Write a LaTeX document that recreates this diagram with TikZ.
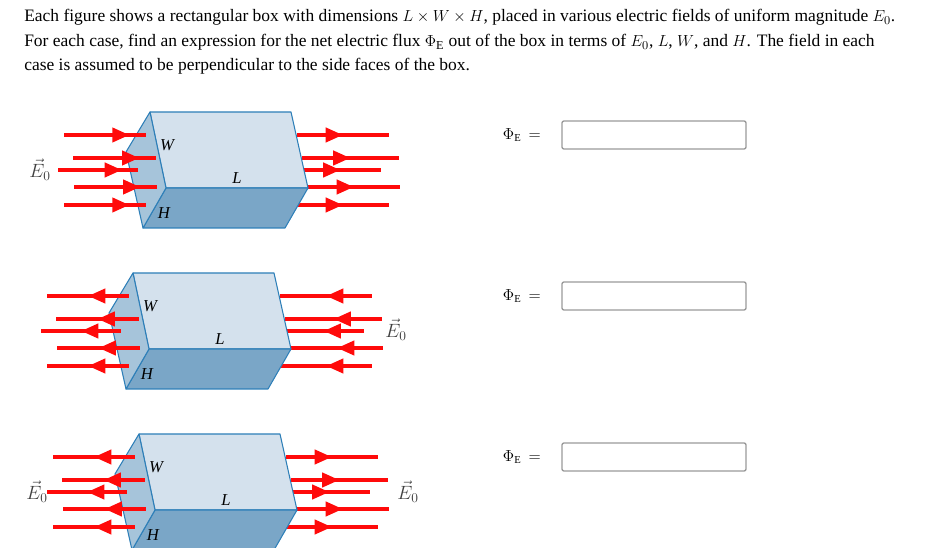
\documentclass[tikz,border=0pt]{standalone}
\usepackage{fontspec}
\setmainfont{Liberation Serif}
\usetikzlibrary{arrows.meta,decorations.markings}
\definecolor{topf}{RGB}{212,225,237}
\definecolor{leftf}{RGB}{166,196,218}
\definecolor{botf}{RGB}{122,166,199}
\definecolor{edge}{RGB}{46,127,184}
\definecolor{fld}{RGB}{255,10,10}
\tikzset{
  face/.style={draw=edge,line width=0.8pt,line join=round},
  fline/.style={draw=fld,line width=3pt},
  fwd/.style={decoration={markings,mark=at position #1 with {\arrow{Triangle[length=13pt,width=10.5pt]}}},postaction=decorate},
  bwd/.style={decoration={markings,mark=at position #1 with {\arrowreversed{Triangle[length=13pt,width=10.5pt]}}},postaction=decorate},
  dimlbl/.style={font=\itshape\fontsize{12.5}{12}\selectfont,inner sep=0pt},
  elbl/.style={font=\fontsize{14}{14}\selectfont,text=black!75,inner sep=0pt},
  txt/.style={anchor=base west,inner sep=0pt,font=\fontsize{13.1}{14}\selectfont},
  ansbox/.style={draw=black!40,line width=1pt,rounded corners=1.5pt,minimum width=138pt,minimum height=21pt,inner sep=0pt},
  phil/.style={font=\fontsize{12}{12}\selectfont,anchor=east,inner sep=0pt}
}
\newcommand{\rightarrows}[1]{%
  \draw[fline,#1] (297,135)--(389,135);
  \draw[fline,#1] (302,158)--(399,158);
  \draw[fline,#1] (300,170)--(381,170);
  \draw[fline,#1] (308,187)--(400,187);
  \draw[fline,#1] (297,205)--(389,205);}
\newcommand{\leftarrows}[1]{%
  \draw[fline,#1] (64,135)--(146,135);
  \draw[fline,#1] (73,158)--(156,158);
  \draw[fline,#1] (58,170)--(138,170);
  \draw[fline,#1] (74,187)--(157,187);
  \draw[fline,#1] (64,205)--(146,205);}
\newcommand{\thebox}{%
  \filldraw[face,fill=topf] (150,112)--(291,112)--(308,188)--(166,188)--cycle;
  \filldraw[face,fill=botf] (166,188)--(308,188)--(285,228)--(143,228)--cycle;
  \filldraw[face,fill=leftf] (150,112)--(166,188)--(143,228)--(126,152)--cycle;}
\begin{document}
\begin{tikzpicture}[x=0.75pt,y=-0.75pt]
\useasboundingbox (0,0) rectangle (949,548);
\node[txt] (t1) at (24,22) {Each figure shows a rectangular box with dimensions $L\times W\times H$, placed in various electric fields of uniform magnitude $E_0$.};
\node[txt] (t2) at (24,47) {For each case, find an expression for the net electric flux $\Phi_{\mathrm{E}}$ out of the box in terms of $E_0$, $L$, $W$, and $H$. The field in each};
\node[txt] (t3) at (24,71) {case is assumed to be perpendicular to the side faces of the box.};
% box 1
\begin{scope}
\rightarrows{fwd=0.5}
\thebox
\leftarrows{fwd=0.8}
\node[dimlbl] (w1) at (167,145) {W};
\node[dimlbl] (l1) at (237,178) {L};
\node[dimlbl] (h1) at (164,213) {H};
\node[elbl] (e1) at (40,170) {$\vec{E}_{0}$};
\end{scope}
% box 2
\begin{scope}[shift={(-17,161)}]
\rightarrows{bwd=0.5}
\thebox
\leftarrows{bwd=0.5}
\node[dimlbl] (w2) at (167,145) {W};
\node[dimlbl] (l2) at (237,178) {L};
\node[dimlbl] (h2) at (164,213) {H};
\node[elbl] (e2) at (413,169) {$\vec{E}_{0}$};
\end{scope}
% box 3
\begin{scope}[shift={(-11,322)}]
\rightarrows{fwd=0.5}
\thebox
\leftarrows{bwd=0.5}
\node[dimlbl] (w3) at (167,145) {W};
\node[dimlbl] (l3) at (237,178) {L};
\node[dimlbl] (h3) at (164,213) {H};
\node[elbl] (e3a) at (48,170) {$\vec{E}_{0}$};
\node[elbl] (e3b) at (419,170) {$\vec{E}_{0}$};
\end{scope}
% answer boxes
\node[ansbox] (a1) at (654,135) {};
\node[ansbox] (a2) at (654,296) {};
\node[ansbox] (a3) at (654,457) {};
\node[phil] (p1) at (541,135) {$\Phi_{\mathrm{E}}\,=$};
\node[phil] (p2) at (541,296) {$\Phi_{\mathrm{E}}\,=$};
\node[phil] (p3) at (541,457) {$\Phi_{\mathrm{E}}\,=$};
\end{tikzpicture}
\end{document}
